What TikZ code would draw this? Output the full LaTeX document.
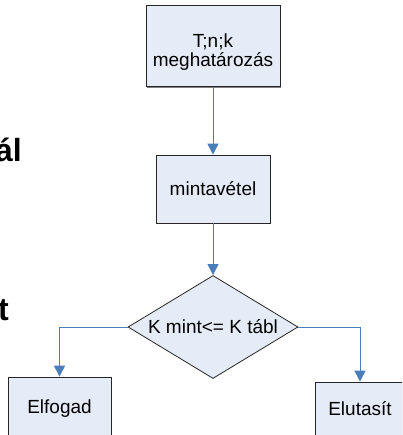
\documentclass[tikz,border=0pt]{standalone}
\usepackage{fontspec}
\setmainfont{Liberation Sans}
\usetikzlibrary{shapes.geometric,arrows.meta,shadows}
\definecolor{boxfill}{HTML}{E6ECF7}
\definecolor{flowblue}{HTML}{4A7EBB}
\begin{document}
\begin{tikzpicture}[x=1pt, y=-1pt,
  box/.style={draw=black!85, fill=boxfill, line width=0.8pt, inner sep=0pt,
    drop shadow={shadow xshift=1.3pt, shadow yshift=-1.3pt, fill=black!50, opacity=1},
    align=center, font=\fontsize{19}{19}\selectfont},
  cond/.style={diamond, aspect=1.65, draw=black!85, fill=boxfill, line width=0.8pt,
    inner sep=0pt, minimum width=170pt, minimum height=103pt,
    font=\fontsize{19}{19}\selectfont},
  flow/.style={draw=flowblue, line width=1pt, -{Triangle[width=11pt,length=11pt]}},
  cut/.style={font=\fontsize{32}{32}\selectfont\bfseries}]
  \useasboundingbox (0,0) rectangle (402,435);
  \clip (0,0) rectangle (402,435);

  % Cut-off words on the left
  \node[cut, anchor=base east, inner sep=0pt] (wordA) at (22,162) {ál};
  \node[cut, anchor=base east, inner sep=0pt] (wordB) at (9,320) {t};

  % Steps
  \node[box, minimum width=134pt, minimum height=81pt] (tnk) at (213,46)
    {\rule{0pt}{25pt}T;n;k\\meghatározás};
  \node[box, minimum width=114pt, minimum height=68pt] (minta) at (213,189) {mintavétel};
  \node[cond] (dont) at (213,327) {K mint<= K tábl};
  \node[box, minimum width=103pt, minimum height=63pt] (elfogad) at (59.5,408.5) {Elfogad};
  \node[box, minimum width=90pt, minimum height=53pt] (elutasit) at (360,408.5) {Elutasít};

  % Arrows
  \draw[flow] (tnk) -- (minta);
  \draw[flow] (minta) -- (dont);
  \draw[flow] (dont.west) -| (elfogad.north);
  \draw[flow] (dont.east) -| (elutasit.north);
\end{tikzpicture}
\end{document}
